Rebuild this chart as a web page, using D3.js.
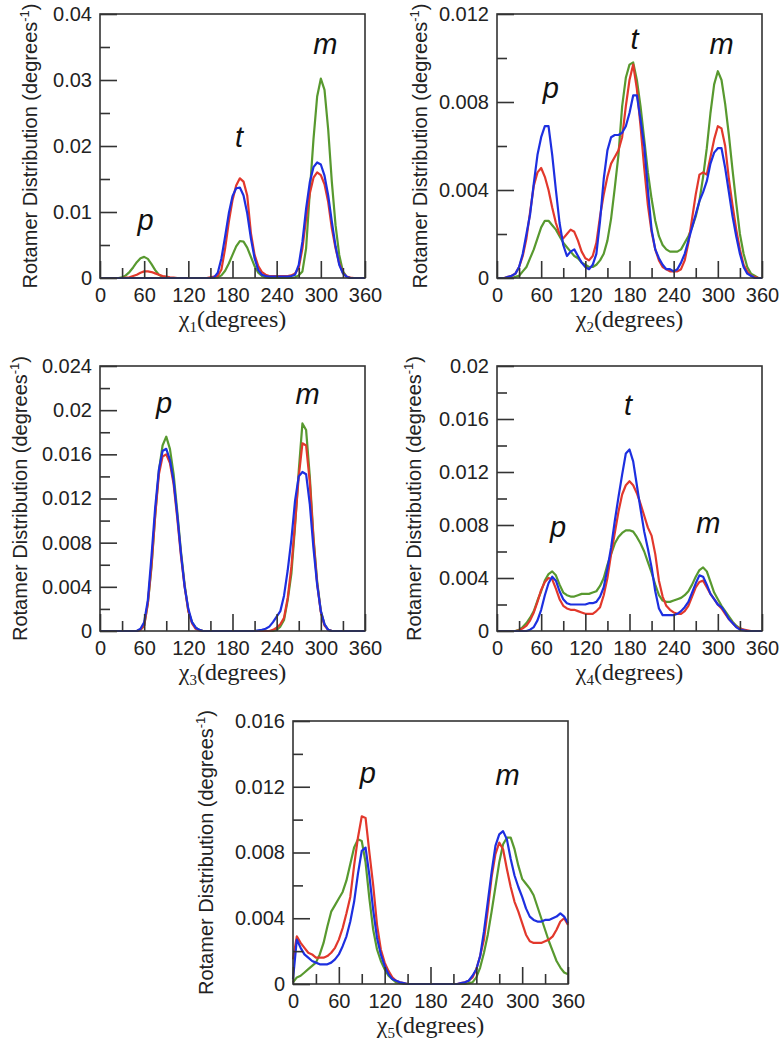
<!DOCTYPE html>
<html>
<head>
<meta charset="utf-8">
<script src="https://cdn.jsdelivr.net/npm/d3@7"></script>
<style>
  html, body { margin: 0; padding: 0; background: #fff; }
  svg { display: block; }
</style>
</head>
<body>
<svg id="chart" width="782" height="1048"></svg>
<script>
// ---------------- DATA ----------------
const angles = [0,5,10,15,20,25,30,35,40,45,50,55,60,65,70,75,80,85,90,95,100,105,110,115,
  120,125,130,135,140,145,150,155,160,165,170,175,180,185,190,195,200,205,210,215,220,225,230,235,
  240,245,250,255,260,265,270,275,280,285,290,295,300,305,310,315,320,325,330,335,340,345,350,355,360];

const xMajorTicks = [0,60,120,180,240,300,360];
const xMinorTicks = [30,90,150,210,270,330];
const seriesNames = ["green","red","blue"];

// chi1
const chi1Green = [0,0,0,0,0,0,0.0001,0.0004,0.0009,0.0016,0.0024,0.003,
  0.0032,0.0029,0.0021,0.0012,0.0005,0.0002,0.0001,0,0,0,0,0,
  0,0,0,0,0,0,0,0,0.0001,0.0004,0.0011,0.0022,
  0.0035,0.0048,0.0056,0.0055,0.0046,0.0032,0.0018,0.0008,0.0003,0.0001,0,0,
  0,0,0,0,0,0.0001,0.0004,0.001,0.0045,0.013,0.021,0.0275,
  0.0302,0.0285,0.0225,0.0145,0.008,0.0035,0.001,0.0002,0,0,0,0,
  0];
const chi1Red = [0,0,0,0,0,0,0,0.00005,0.0001,0.0003,0.0005,0.0008,
  0.001,0.001,0.0009,0.0007,0.0005,0.0003,0.0002,0.0001,0.00005,0,0,0,
  0,0,0,0,0,0,0.0001,0.0002,0.0003,0.0013,0.0045,0.0085,
  0.0118,0.014,0.0151,0.0146,0.0125,0.0068,0.0035,0.0018,0.0009,0.0005,0.0003,0.0003,
  0.0003,0.0003,0.0003,0.0003,0.0004,0.0007,0.0015,0.0045,0.009,0.0128,0.0152,0.016,
  0.0156,0.0142,0.0115,0.0075,0.0045,0.0022,0.0008,0.0002,0.00005,0,0,0,
  0];
const chi1Blue = [0,0,0,0,0,0,0,0,0,0,0,0,
  0,0,0,0,0,0,0,0,0,0,0,0,
  0,0,0,0,0,0,0,0.0001,0.0008,0.003,0.0063,0.0098,
  0.0124,0.0136,0.0137,0.0125,0.0098,0.006,0.003,0.0012,0.0005,0.0003,0.0002,0.0002,
  0.0002,0.0002,0.0002,0.0002,0.0003,0.0005,0.002,0.0055,0.0105,0.0145,0.0168,0.0175,
  0.0172,0.0155,0.0125,0.0085,0.0048,0.002,0.0007,0.0002,0,0,0,0,
  0];

// chi2
const chi2Green = [0,0,0,0,0,0.00005,0.0001,0.0003,0.0005,0.0009,0.0013,0.0018,
  0.0023,0.0026,0.0026,0.0024,0.0022,0.0019,0.0016,0.0014,0.0012,0.001,0.0009,0.0007,
  0.0006,0.0005,0.0005,0.0006,0.0008,0.0011,0.0017,0.0027,0.0041,0.0056,0.0078,0.0091,
  0.0097,0.0098,0.009,0.0078,0.0063,0.0048,0.0036,0.0026,0.0019,0.0015,0.0013,0.0012,
  0.0012,0.0012,0.0013,0.0016,0.0019,0.0023,0.0028,0.0035,0.0046,0.0059,0.0075,0.0088,
  0.0094,0.009,0.0079,0.0065,0.0049,0.0034,0.002,0.0011,0.0005,0.0002,0.0001,0,
  0];
const chi2Red = [0,0,0,0.00005,0.0001,0.0002,0.0005,0.001,0.0018,0.003,0.0042,0.0048,
  0.005,0.0046,0.004,0.0032,0.0025,0.002,0.0018,0.002,0.0022,0.0021,0.0017,0.0012,
  0.0009,0.0008,0.001,0.0016,0.0028,0.0038,0.0046,0.0052,0.0055,0.0058,0.0064,0.0078,
  0.009,0.0097,0.0086,0.0069,0.005,0.0033,0.0021,0.0013,0.0008,0.0005,0.0004,0.0003,
  0.0003,0.0003,0.0004,0.0008,0.0016,0.0027,0.0038,0.0047,0.0048,0.0047,0.0055,0.0063,
  0.0069,0.0068,0.006,0.0045,0.0033,0.0022,0.0013,0.0006,0.0003,0.0001,0.00005,0,
  0];
const chi2Blue = [0,0,0,0.00005,0.0001,0.0002,0.0005,0.0011,0.002,0.0029,0.0043,0.0056,
  0.0064,0.0069,0.0069,0.0056,0.004,0.0025,0.0015,0.001,0.0012,0.0013,0.001,0.0007,
  0.0005,0.0004,0.0006,0.0011,0.0026,0.0045,0.0058,0.0064,0.0065,0.0065,0.0066,0.0069,
  0.0075,0.0083,0.0083,0.0072,0.006,0.004,0.0022,0.0013,0.0009,0.0006,0.0004,0.0004,
  0.0003,0.0004,0.0007,0.0011,0.0017,0.0023,0.0029,0.0035,0.0039,0.0044,0.0052,0.0057,
  0.0059,0.0059,0.005,0.0039,0.0028,0.0019,0.0011,0.0005,0.0002,0.0001,0,0,
  0];

// chi3
const chi3Green = [0,0,0,0,0,0,0,0,0,0,0,0.0001,
  0.0005,0.0025,0.0058,0.0105,0.0145,0.0168,0.0176,0.0165,0.0142,0.0108,0.0072,0.0042,
  0.0018,0.0008,0.0003,0.0001,0,0,0,0,0,0,0,0,
  0,0,0,0,0,0,0,0,0,0,0,0,
  0.0001,0.0004,0.001,0.0028,0.0052,0.0095,0.0145,0.0188,0.0182,0.014,0.0085,0.0045,
  0.0018,0.0006,0.0001,0,0,0,0,0,0,0,0,0,
  0];
const chi3Red = [0,0,0,0,0,0,0,0,0,0,0,0.0001,
  0.0005,0.0025,0.006,0.0105,0.0142,0.0158,0.016,0.0152,0.0133,0.0102,0.0068,0.004,
  0.0018,0.0007,0.0002,0.00005,0,0,0,0,0,0,0,0,
  0,0,0,0,0,0,0,0,0,0,0,0.0001,
  0.0003,0.0006,0.0012,0.003,0.0058,0.0098,0.014,0.017,0.0168,0.0135,0.0083,0.0043,
  0.0017,0.0005,0.0001,0,0,0,0,0,0,0,0,0,
  0];
const chi3Blue = [0,0,0,0,0,0,0,0,0,0,0,0.0002,
  0.0008,0.0028,0.0068,0.0112,0.0146,0.0163,0.0165,0.0155,0.0136,0.0105,0.007,0.004,
  0.002,0.0008,0.0003,0.0001,0,0,0,0,0,0,0,0,
  0,0,0,0,0,0,0,0.00005,0.0001,0.0002,0.0004,0.0008,
  0.0013,0.0018,0.0032,0.0055,0.0083,0.0118,0.014,0.0144,0.0142,0.0115,0.0075,0.0042,
  0.0018,0.0006,0.0001,0,0,0,0,0,0,0,0,0,
  0];

// chi4
const chi4Green = [0,0,0,0,0,0,0.0001,0.0003,0.0006,0.001,0.0015,0.0023,
  0.003,0.0038,0.0043,0.0045,0.0042,0.0035,0.0029,0.0027,0.0026,0.0026,0.0027,0.0028,
  0.0028,0.0028,0.0029,0.003,0.0034,0.004,0.005,0.0058,0.0066,0.0071,0.0074,0.0076,
  0.0076,0.0075,0.0071,0.0066,0.006,0.0052,0.0044,0.0035,0.0027,0.0023,0.0022,0.0022,
  0.0023,0.0024,0.0025,0.0027,0.003,0.0035,0.0041,0.0046,0.0048,0.0045,0.0037,0.0029,
  0.0024,0.0019,0.0015,0.0011,0.0007,0.0004,0.0002,0.0001,0,0,0,0,
  0];
const chi4Red = [0,0,0,0,0,0,0.00005,0.0002,0.0004,0.0008,0.0014,0.0022,
  0.0031,0.0037,0.004,0.0039,0.0032,0.0024,0.0019,0.0017,0.0016,0.0016,0.0015,0.0014,
  0.0013,0.0013,0.0013,0.0015,0.0018,0.0027,0.004,0.0058,0.0074,0.009,0.0103,0.011,
  0.0113,0.011,0.0104,0.0096,0.0087,0.0078,0.0072,0.0058,0.0038,0.0026,0.0019,0.0016,
  0.0014,0.0013,0.0013,0.0015,0.0019,0.0026,0.0033,0.0037,0.0038,0.0033,0.0028,0.0024,
  0.002,0.0017,0.0013,0.0009,0.0006,0.0003,0.0002,0.0001,0.00005,0,0,0,
  0];
const chi4Blue = [0,0,0,0,0,0,0,0,0,0.0001,0.0003,0.0008,
  0.0016,0.0027,0.0036,0.0041,0.0038,0.003,0.0024,0.0021,0.002,0.002,0.002,0.002,
  0.002,0.0021,0.0021,0.0022,0.0026,0.0033,0.0047,0.0063,0.0083,0.0101,0.0118,0.0134,
  0.0137,0.0128,0.011,0.0092,0.0075,0.0062,0.0048,0.003,0.0017,0.0012,0.0012,0.0012,
  0.0012,0.0013,0.0015,0.0018,0.0022,0.0029,0.0036,0.0042,0.0041,0.0035,0.0028,0.0024,
  0.002,0.0018,0.0014,0.0009,0.0006,0.0003,0.0001,0.00005,0,0,0,0,
  0];

// chi5
const chi5Green = [0.0001,0.0004,0.0005,0.0007,0.0009,0.0011,0.0013,0.0018,0.0025,0.0035,0.0044,0.0048,
  0.0052,0.0056,0.0063,0.0073,0.0083,0.0088,0.0087,0.0074,0.0052,0.0033,0.0021,0.0014,
  0.0009,0.0005,0.0003,0.0001,0.00005,0,0,0,0,0,0,0,
  0,0,0,0,0,0,0,0,0,0,0.00005,0.0001,
  0.0004,0.001,0.0019,0.003,0.0044,0.0059,0.0074,0.0085,0.0089,0.0089,0.0082,0.0072,
  0.0064,0.0061,0.0058,0.0054,0.0047,0.004,0.0033,0.0026,0.002,0.0014,0.001,0.0007,
  0.0006];
const chi5Red = [0.0015,0.0029,0.0025,0.0022,0.0019,0.0018,0.0016,0.0016,0.0016,0.0017,0.0019,0.0022,
  0.0027,0.0034,0.0043,0.0053,0.0072,0.0089,0.0102,0.0101,0.008,0.006,0.0036,0.0021,
  0.0013,0.0008,0.0004,0.0002,0.0001,0.00005,0,0,0,0,0,0,
  0,0,0,0,0,0,0,0,0.00005,0.0001,0.0002,0.0004,
  0.0009,0.0017,0.0027,0.0045,0.0065,0.0079,0.0086,0.0082,0.007,0.0059,0.005,0.0044,
  0.0037,0.003,0.0026,0.0025,0.0025,0.0025,0.0026,0.0027,0.0029,0.0033,0.0038,0.004,
  0.0036];
const chi5Blue = [0.0003,0.0027,0.0022,0.0018,0.0016,0.0014,0.0013,0.0012,0.0012,0.0012,0.0013,0.0015,
  0.0018,0.0023,0.0029,0.0038,0.005,0.0067,0.0081,0.0083,0.0066,0.0045,0.0028,0.0018,
  0.0011,0.0006,0.0003,0.0002,0.0001,0.00005,0,0,0,0,0,0,
  0,0,0,0,0,0,0,0,0.00005,0.0001,0.0002,0.0005,
  0.0009,0.0017,0.0032,0.005,0.0068,0.0084,0.0091,0.0093,0.0088,0.0076,0.0066,0.0059,
  0.0053,0.0046,0.0041,0.0039,0.0038,0.0038,0.0039,0.0039,0.004,0.0041,0.0043,0.0041,
  0.0037];

// y-axis ticks
const chi1YTicks = [0,0.01,0.02,0.03,0.04];
const chi1YLabels = ["0","0.01","0.02","0.03","0.04"];
const chi1YMinor = [0.005,0.015,0.025,0.035];
const chi2YTicks = [0,0.004,0.008,0.012];
const chi2YLabels = ["0","0.004","0.008","0.012"];
const chi2YMinor = [0.002,0.006,0.01];
const chi3YTicks = [0,0.004,0.008,0.012,0.016,0.02,0.024];
const chi3YLabels = ["0","0.004","0.008","0.012","0.016","0.02","0.024"];
const chi3YMinor = [0.002,0.006,0.01,0.014,0.018,0.022];
const chi4YTicks = [0,0.004,0.008,0.012,0.016,0.02];
const chi4YLabels = ["0","0.004","0.008","0.012","0.016","0.02"];
const chi4YMinor = [0.002,0.006,0.01,0.014,0.018];
const chi5YTicks = [0,0.004,0.008,0.012,0.016];
const chi5YLabels = ["0","0.004","0.008","0.012","0.016"];
const chi5YMinor = [0.002,0.006,0.01,0.014];

// rotamer annotations: [letter, angle, value]
const chi1Notes = [["p",62,0.0073],["t",189,0.0198],["m",306,0.0339]];
const chi2Notes = [["p",73,0.0082],["t",187,0.0104],["m",305,0.0102]];
const chi3Notes = [["p",87,0.0197],["m",282,0.0206]];
const chi4Notes = [["p",83,0.0071],["t",178,0.0163],["m",287,0.0074]];
const chi5Notes = [["p",98,0.0122],["m",281,0.0121]];

// ---------------- LAYOUT / STYLE ----------------
const colors = {green:"#58992f", red:"#e2382c", blue:"#1d2fe0"};
const panels = [
  {sub:"1", left:100, top:14,  width:265, height:264, ymax:0.04,  series:[chi1Green,chi1Red,chi1Blue], yt:chi1YTicks, yl:chi1YLabels, ym:chi1YMinor, notes:chi1Notes, ylabX:30},
  {sub:"2", left:497, top:14,  width:265, height:264, ymax:0.012, series:[chi2Green,chi2Red,chi2Blue], yt:chi2YTicks, yl:chi2YLabels, ym:chi2YMinor, notes:chi2Notes, ylabX:420},
  {sub:"3", left:100, top:366, width:265, height:265, ymax:0.024, series:[chi3Green,chi3Red,chi3Blue], yt:chi3YTicks, yl:chi3YLabels, ym:chi3YMinor, notes:chi3Notes, ylabX:20},
  {sub:"4", left:497, top:366, width:265, height:265, ymax:0.02,  series:[chi4Green,chi4Red,chi4Blue], yt:chi4YTicks, yl:chi4YLabels, ym:chi4YMinor, notes:chi4Notes, ylabX:414},
  {sub:"5", left:293, top:721, width:275, height:263, ymax:0.016, series:[chi5Green,chi5Red,chi5Blue], yt:chi5YTicks, yl:chi5YLabels, ym:chi5YMinor, notes:chi5Notes, ylabX:206}
];

const svg = d3.select("#chart");
svg.append("rect").attr("width",782).attr("height",1048).attr("fill","#fff");

const axisColor = "#333";
const sansFont = "Arial, 'Liberation Sans', Helvetica, sans-serif";
const serifFont = "'Times New Roman', 'Liberation Serif', Times, serif";

panels.forEach(p => {
  const x = d3.scaleLinear().domain([0,360]).range([p.left, p.left + p.width]);
  const y = d3.scaleLinear().domain([0,p.ymax]).range([p.top + p.height, p.top]);
  const g = svg.append("g");

  // curves
  const line = d3.line().x((d,i) => x(angles[i])).y(d => y(d));
  p.series.forEach((vals, k) => {
    g.append("path").datum(vals)
      .attr("d", line)
      .attr("fill","none")
      .attr("stroke", colors[seriesNames[k]])
      .attr("stroke-width", 2.2)
      .attr("stroke-linejoin","round");
  });

  // x axis (major with labels, minor without)
  const xb = p.top + p.height;
  const xMajor = g.append("g").attr("transform",`translate(0,${xb})`)
    .call(d3.axisBottom(x).tickValues(xMajorTicks).tickSize(-17).tickPadding(10).tickFormat(d3.format("d")));
  const xMinor = g.append("g").attr("transform",`translate(0,${xb})`)
    .call(d3.axisBottom(x).tickValues(xMinorTicks).tickSize(-10).tickFormat(""));
  // y axis
  const yMajor = g.append("g").attr("transform",`translate(${p.left},0)`)
    .call(d3.axisLeft(y).tickValues(p.yt).tickSize(-17).tickPadding(8).tickFormat((d,i) => p.yl[i]));
  const yMinor = g.append("g").attr("transform",`translate(${p.left},0)`)
    .call(d3.axisLeft(y).tickValues(p.ym).tickSize(-10).tickFormat(""));

  [xMajor,xMinor,yMajor,yMinor].forEach(a => {
    a.select(".domain").remove();
    a.selectAll("line").attr("stroke",axisColor).attr("stroke-width",1.6);
    a.selectAll("text").attr("fill","#222").style("font-family",sansFont).style("font-size","20px");
  });

  // frame
  g.append("rect").attr("x",p.left).attr("y",p.top).attr("width",p.width).attr("height",p.height)
    .attr("fill","none").attr("stroke",axisColor).attr("stroke-width",1.6);

  // annotations
  p.notes.forEach(n => {
    g.append("text").attr("x", x(n[1])).attr("y", y(n[2]))
      .attr("text-anchor","middle")
      .style("font-family",sansFont).style("font-style","italic").style("font-size","29px")
      .attr("fill","#111").text(n[0]);
  });

  // x label
  const xl = g.append("text").attr("x", p.left + p.width/2).attr("y", xb + 49)
    .attr("text-anchor","middle").style("font-family",serifFont).style("font-size","24px").attr("fill","#222");
  xl.append("tspan").text("χ");
  xl.append("tspan").attr("dy",5).style("font-size","15px").text(p.sub);
  xl.append("tspan").attr("dy",-5).text("(degrees)");

  // y label
  const yc = p.top + p.height/2;
  const yl = g.append("text").attr("transform",`translate(${p.ylabX},${yc}) rotate(-90)`)
    .attr("text-anchor","middle").attr("dy","0.36em")
    .style("font-family",sansFont).style("font-size","20px").attr("fill","#222");
  yl.append("tspan").text("Rotamer Distribution (degrees");
  yl.append("tspan").attr("dy",-8).style("font-size","13px").text("-1");
  yl.append("tspan").attr("dy",8).text(")");
});
</script>
</body>
</html>
